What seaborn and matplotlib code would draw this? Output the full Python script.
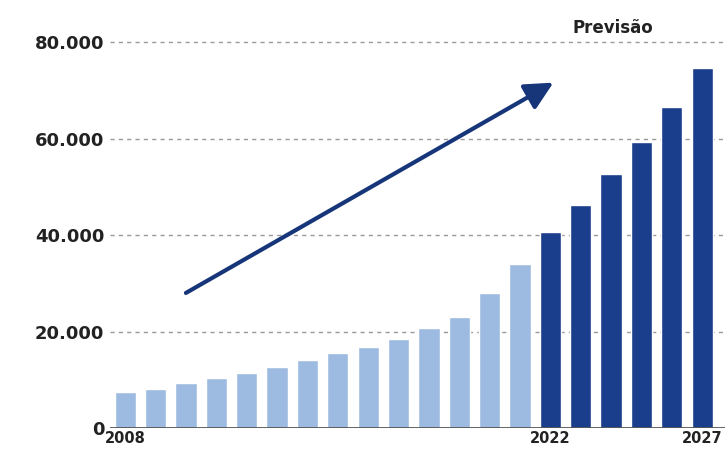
import matplotlib.pyplot as plt
import seaborn as sns
import pandas as pd

# values
years = list(range(2008, 2028))
values = [7500, 8100, 9300, 10400, 11400, 12600, 14100, 15500, 16800, 18400,
          20700, 23000, 28000, 34000, 40600, 46200, 52600, 59300, 66500, 74600]
first_forecast = 2022
labelled_years = [2008, 2022, 2027]
y_ticks = [0, 20000, 40000, 60000, 80000]
arrow_start = (2.0, 28000)
arrow_end = (14.1, 71600)

light = "#9dbbe1"
dark = "#1a3d8c"

df = pd.DataFrame({"ano": [str(y) for y in years], "valor": values})
df["tipo"] = ["Previsão" if y >= first_forecast else "Real" for y in years]

sns.set_style("white")
plt.rcParams["font.family"] = ["DejaVu Sans"]

fig = plt.figure(figsize=(7.25, 4.5), dpi=100)
ax = fig.add_axes([110 / 725, 22 / 450, 615 / 725, 410 / 450])

sns.barplot(data=df, x="ano", y="valor", hue="tipo",
            palette={"Real": light, "Previsão": dark},
            width=0.7, dodge=False, legend=False, saturation=1, ax=ax)

ax.set_xlim(-0.5, 19.75)
ax.set_ylim(0, 85000)
ax.set_yticks(y_ticks)
ax.set_yticklabels([f"{v:,}".replace(",", ".") for v in y_ticks],
                   fontsize=13, fontweight="bold", color="#222222")
ax.set_xticks([years.index(y) for y in labelled_years])
ax.set_xticklabels([str(y) for y in labelled_years],
                   fontsize=10.5, fontweight="bold", color="#222222")
ax.tick_params(axis="both", length=0)
ax.tick_params(axis="y", pad=4)
ax.tick_params(axis="x", pad=2)
ax.set_xlabel("")
ax.set_ylabel("")

for v in y_ticks[1:]:
    ax.axhline(v, color="#9a9a9a", lw=1, ls=(0, (3, 3)), zorder=0)
ax.axhline(0, color="#555555", lw=2, zorder=3)
sns.despine(ax=ax, left=True, bottom=True, right=True, top=True)

ax.annotate("", xy=arrow_end, xytext=arrow_start,
            arrowprops=dict(arrowstyle="-|>,head_length=1.7,head_width=0.85",
                            color="#17367a", lw=3, shrinkA=0, shrinkB=0))

fig.text(613 / 725, 1 - 28 / 450, "Previsão", ha="center", va="center",
         fontsize=12, fontweight="bold", color="#222222")

fig.savefig("out.png", dpi=100)
